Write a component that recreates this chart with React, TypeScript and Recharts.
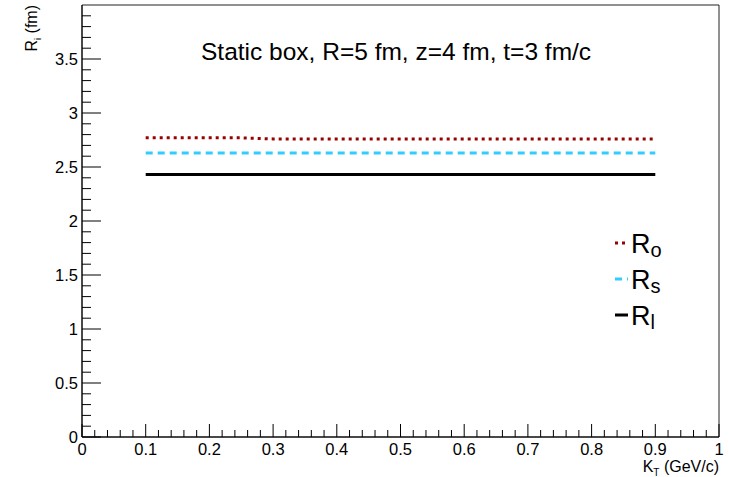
import { Label, Legend, Line, LineChart, ReferenceArea, XAxis, YAxis } from "recharts";

const FONT = "'Liberation Sans', Arial, Helvetica, sans-serif";

// transverse pair momentum, GeV/c
const kT = [0.1, 0.15, 0.2, 0.25, 0.3, 0.35, 0.4, 0.45, 0.5, 0.55, 0.6, 0.65, 0.7, 0.75, 0.8, 0.85, 0.9];
// HBT radii (fm)
const rOut = [2.77, 2.77, 2.77, 2.77, 2.76, 2.76, 2.76, 2.76, 2.76, 2.76, 2.76, 2.76, 2.76, 2.76, 2.76, 2.76, 2.76];
const rSide = [2.63, 2.63, 2.63, 2.63, 2.63, 2.63, 2.63, 2.63, 2.63, 2.63, 2.63, 2.63, 2.63, 2.63, 2.63, 2.63, 2.63];
const rLong = [2.43, 2.43, 2.43, 2.43, 2.43, 2.43, 2.43, 2.43, 2.43, 2.43, 2.43, 2.43, 2.43, 2.43, 2.43, 2.43, 2.43];

const xLabels = ["0", "0.1", "0.2", "0.3", "0.4", "0.5", "0.6", "0.7", "0.8", "0.9", "1"];
const yLabels = ["0", "0.5", "1", "1.5", "2", "2.5", "3", "3.5"];

const series = [
  { key: "ro", sub: "o", color: "#990000", dash: "3 4" },
  { key: "rs", sub: "s", color: "#33CCFF", dash: "7 5" },
  { key: "rl", sub: "l", color: "#000000", dash: undefined },
];

const data = kT.map((k, i) => ({ kT: k, ro: rOut[i], rs: rSide[i], rl: rLong[i] }));

// minor ticks every 0.02 on x, every 0.1 on y
const xTicks = Array.from({ length: 51 }, (_, i) => i / 50);
const yTicks = Array.from({ length: 40 }, (_, i) => i / 10);

function XTick(props: any) {
  const { x, y, index } = props;
  const major = index % 5 === 0;
  return (
    <g>
      <line x1={x} x2={x} y1={y} y2={y - (major ? 13 : 7)} stroke="#000" />
      {major && (
        <text x={x} y={y + 18} textAnchor="middle" fontSize={16.5} fontFamily={FONT} fill="#000">
          {xLabels[index / 5]}
        </text>
      )}
    </g>
  );
}

function YTick(props: any) {
  const { x, y, index } = props;
  const major = index % 5 === 0;
  return (
    <g>
      <line x1={x} x2={x + (major ? 19 : 9)} y1={y} y2={y} stroke="#000" />
      {major && (
        <text x={x - 4} y={y + 6} textAnchor="end" fontSize={16.5} fontFamily={FONT} fill="#000">
          {yLabels[index / 5]}
        </text>
      )}
    </g>
  );
}

function XTitle(props: any) {
  const { x, y, width } = props.viewBox;
  return (
    <text x={x + width} y={y + 35} textAnchor="end" fontSize={16} fontFamily={FONT} fill="#000">
      K<tspan fontSize={10} dy={4}>T</tspan>
      <tspan dy={-4}> (GeV/c)</tspan>
    </text>
  );
}

function YTitle(props: any) {
  const { y } = props.viewBox;
  return (
    <text
      transform={`translate(37, ${y}) rotate(-90)`}
      textAnchor="end"
      fontSize={16}
      fontFamily={FONT}
      fill="#000"
    >
      R<tspan fontSize={9} dy={4}>i</tspan>
      <tspan dy={-4}> (fm)</tspan>
    </text>
  );
}

function LegendBox() {
  return (
    <svg width={90} height={115} style={{ overflow: "visible" }}>
      {series.map((s, i) => {
        const cy = 18 + i * 36;
        return (
          <g key={s.key}>
            <line x1={15} x2={28} y1={cy} y2={cy} stroke={s.color} strokeWidth={3} strokeDasharray={s.dash} />
            <text x={31} y={cy + 10} fontSize={27} fontFamily={FONT} fill="#000">
              R<tspan fontSize={20} dy={4}>{s.sub}</tspan>
            </text>
          </g>
        );
      })}
    </svg>
  );
}

export default function App() {
  return (
    <div style={{ position: "absolute", left: 0, top: 0, width: 729, height: 477, background: "#fff" }}>
      <div
        style={{
          position: "absolute",
          left: 201,
          top: 40,
          fontFamily: FONT,
          fontSize: 24.5,
          lineHeight: "24px",
          color: "#000",
          whiteSpace: "nowrap",
          zIndex: 2,
        }}
      >
        Static box, R=5 fm, z=4 fm, t=3 fm/c
      </div>
      <LineChart width={729} height={477} data={data} margin={{ top: 5, right: 10, left: 0, bottom: 0 }}>
        <XAxis
          dataKey="kT"
          type="number"
          domain={[0, 1]}
          ticks={xTicks}
          interval={0}
          tick={<XTick />}
          tickLine={false}
          tickSize={0}
          tickMargin={0}
          height={40}
          axisLine={{ stroke: "#000" }}
          allowDataOverflow
        >
          <Label content={<XTitle />} />
        </XAxis>
        <YAxis
          type="number"
          domain={[0, 4]}
          ticks={yTicks}
          interval={0}
          tick={<YTick />}
          tickLine={false}
          tickSize={0}
          tickMargin={0}
          width={82}
          axisLine={{ stroke: "#000" }}
          allowDataOverflow
        >
          <Label content={<YTitle />} />
        </YAxis>
        <ReferenceArea x1={0} x2={1} y1={0} y2={4} fill="none" fillOpacity={0} stroke="#222" strokeWidth={1} />
        {series.map((s) => (
          <Line
            key={s.key}
            dataKey={s.key}
            type="linear"
            stroke={s.color}
            strokeWidth={3}
            strokeDasharray={s.dash}
            dot={false}
            activeDot={false}
            isAnimationActive={false}
          />
        ))}
        {/* middle/center placement keeps the legend from reserving plot space */}
        <Legend
          layout="horizontal"
          align="center"
          verticalAlign="middle"
          content={<LegendBox />}
          wrapperStyle={{ position: "absolute", left: 600, top: 225, width: 90, height: 115 }}
        />
      </LineChart>
    </div>
  );
}
